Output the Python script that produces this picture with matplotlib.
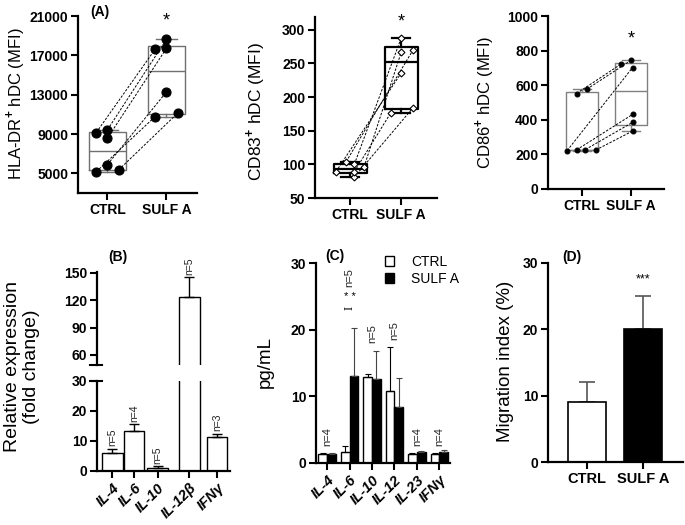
import numpy as np
import matplotlib.pyplot as plt

plt.rcParams['font.family'] = ['Liberation Sans', 'DejaVu Sans']
plt.rcParams['font.weight'] = 'bold'
plt.rcParams['mathtext.fontset'] = 'custom'
plt.rcParams['mathtext.rm'] = 'Liberation Sans'

# (A) paired MFI values, CTRL -> SULF A (same donor at same index)
groups = ['CTRL', 'SULF A']
hla_ctrl = [9150, 9430, 8580, 5890, 5170, 5350]
hla_sulf = [17630, 18620, 17700, 13270, 10770, 11110]
cd83_ctrl = [100, 104, 96, 89, 81, 89]
cd83_sulf = [288, 270, 267, 236, 184, 176]
cd86_ctrl = [552, 577, 222, 226, 228, 225]
cd86_sulf = [721, 744, 702, 431, 385, 335]

# (B) relative expression (fold change)
b_genes = ['IL-4', 'IL-6', 'IL-10', 'IL-12β', 'IFNγ']
b_mean = [5.9, 13.3, 1.0, 124, 11.3]
b_err = [1.6, 2.3, 0.6, 21, 1.2]
b_n = ['n=5', 'n=4', 'n=5', 'n=5', 'n=3']

# (C) cytokines pg/mL
c_genes = ['IL-4', 'IL-6', 'IL-10', 'IL-12', 'IL-23', 'IFNγ']
c_ctrl = [1.4, 1.6, 12.9, 10.8, 1.4, 1.4]
c_ctrl_err = [0.1, 0.9, 0.4, 6.6, 0.1, 0.1]
c_sulf = [1.4, 13.1, 12.6, 8.4, 1.6, 1.6]
c_sulf_err = [0.1, 7.2, 4.2, 4.3, 0.2, 0.3]
c_n = ['n=4', 'n=5', 'n=5', 'n=5', 'n=4', 'n=4']

# (D) migration index
d_mean = [9.0, 20.1]
d_err = [3.0, 5.0]

# horizontal scatter offsets of the points (layout only)
hla_off = ([-0.19, 0, 0, 0, -0.19, 0.19], [-0.19, 0, 0, 0, -0.19, 0.19])
cd83_off = ([0.08, -0.08, 0.27, -0.28, 0.08, 0.08], [0.0, 0.23, 0.0, 0.0, 0.23, -0.21])
cd86_off = ([-0.11, 0.1, -0.3, -0.11, 0.07, 0.28], [-0.21, 0.0, 0.03, 0.03, 0.03, 0.03])

W, H = 685, 525
fig = plt.figure(figsize=(W / 100, H / 100), dpi=100)
NORMAL = dict(fontweight='normal')


def rect(x0, y0, x1, y1):
    return [x0 / W, 1 - y1 / H, (x1 - x0) / W, (y1 - y0) / H]


def style(ax, ticks, bottom=True):
    for s in ['top', 'right']:
        ax.spines[s].set_visible(False)
    ax.spines['left'].set_linewidth(1.6)
    ax.spines['bottom'].set_linewidth(1.6)
    if not bottom:
        ax.spines['bottom'].set_visible(False)
    ax.tick_params(width=1.5, length=5, pad=2, labelsize=10)
    ax.set_yticks(ticks)


def stats(v):
    q1, med, q3 = np.percentile(v, [25, 50, 75], method='weibull')
    return dict(med=med, q1=q1, q3=q3, whislo=min(v), whishi=max(v), fliers=[])


def paired_box(ax, ctrl, sulf, offs, boxcol, boxlw, mk, ms, mfc):
    ax.bxp([stats(ctrl), stats(sulf)], positions=[0, 1], widths=0.64, showfliers=False,
           capwidths=0.35,
           boxprops=dict(color=boxcol, lw=boxlw), whiskerprops=dict(color=boxcol, lw=boxlw),
           capprops=dict(color=boxcol, lw=boxlw), medianprops=dict(color=boxcol, lw=boxlw))
    xc = np.array(offs[0])
    xs = 1 + np.array(offs[1])
    for i in range(len(ctrl)):
        ax.plot([xc[i], xs[i]], [ctrl[i], sulf[i]], color='k', lw=0.7, ls=(0, (2.5, 1.5)), zorder=3)
    ax.plot(xc, ctrl, ls='none', marker=mk, ms=ms, mfc=mfc, mec='k', mew=0.8, zorder=4)
    ax.plot(xs, sulf, ls='none', marker=mk, ms=ms, mfc=mfc, mec='k', mew=0.8, zorder=4)
    ax.set_xticks([0, 1])
    ax.set_xticklabels(groups, fontsize=10.5)


# ---- (A) ----
a1 = fig.add_axes(rect(78, 16, 197, 193))
paired_box(a1, hla_ctrl, hla_sulf, hla_off, '#707070', 1.0, 'o', 6.5, 'k')
a1.set_xlim(-0.5, 1.52)
a1.set_ylim(3000, 21000)
style(a1, [5000, 9000, 13000, 17000, 21000])
a1.text(1, 20450, '*', ha='center', va='center', fontsize=13, **NORMAL)

a2 = fig.add_axes(rect(315, 17, 437, 198))
paired_box(a2, cd83_ctrl, cd83_sulf, cd83_off, 'k', 1.6, 'D', 3.5, 'white')
a2.set_xlim(-0.69, 1.7)
a2.set_ylim(50, 319)
style(a2, list(range(50, 301, 50)))
a2.text(1, 312, '*', ha='center', va='center', fontsize=13, **NORMAL)

a3 = fig.add_axes(rect(548, 16, 664, 189))
paired_box(a3, cd86_ctrl, cd86_sulf, cd86_off, '#808080', 1.0, 'o', 3.5, 'k')
a3.set_xlim(-0.69, 1.67)
a3.set_ylim(0, 1000)
style(a3, list(range(0, 1001, 200)))
a3.text(1, 865, '*', ha='center', va='center', fontsize=13, **NORMAL)

fig.text(16 / W, 1 - 104 / H, 'HLA-DR$^{+}$ hDC (MFI)', rotation=90, ha='center', va='center',
         fontsize=12, **NORMAL)
fig.text(256 / W, 1 - 111 / H, 'CD83$^{+}$ hDC (MFI)', rotation=90, ha='center', va='center',
         fontsize=12.5, **NORMAL)
fig.text(485 / W, 1 - 102 / H, 'CD86$^{+}$ hDC (MFI)', rotation=90, ha='center', va='center',
         fontsize=12, **NORMAL)

# ---- (B) broken axis ----
bx = np.array([0, 0.98, 2.05, 3.5, 4.75])
bw = 0.95
b_lo = fig.add_axes(rect(97, 381, 230, 471))
b_hi = fig.add_axes(rect(97, 272, 230, 365))
for ax in (b_lo, b_hi):
    ax.bar(bx, b_mean, bw, color='white', edgecolor='k', lw=1.0, zorder=2)
    ax.errorbar(bx, b_mean, yerr=[np.zeros(5), b_err], fmt='none', ecolor='k',
                elinewidth=1, capsize=3.5, capthick=1, zorder=3)
    ax.set_xlim(-0.7, 5.34)
b_lo.set_ylim(0, 30)
b_hi.set_ylim(49, 151)
style(b_lo, [0, 10, 20, 30])
style(b_hi, [60, 90, 120, 150], bottom=False)
b_hi.set_xticks([])
b_lo.set_xticks(bx)
b_lo.set_xticklabels(b_genes, rotation=45, ha='right', rotation_mode='anchor',
                     fontstyle='italic', fontsize=10.5)
b_hi.plot([-0.05, 0.04], [0, 0], transform=b_hi.transAxes, color='k', lw=1.5, clip_on=False)
b_lo.plot([-0.05, 0.04], [1, 1], transform=b_lo.transAxes, color='k', lw=1.5, clip_on=False)
for i in range(5):
    top = b_mean[i] + b_err[i]
    ax = b_hi if b_mean[i] > 30 else b_lo
    off = 3 if ax is b_hi else 0.8
    ax.text(bx[i], top + off, b_n[i], rotation=90, ha='center', va='bottom', fontsize=7.5,
            color='#222222', **NORMAL)
fig.text(118 / W, 1 - 257 / H, '(B)', ha='center', va='center', fontsize=10)
fig.text(22 / W, 1 - 367 / H, 'Relative expression\n(fold change)', rotation=90,
         ha='center', va='center', fontsize=14, linespacing=1.1, **NORMAL)

# ---- (C) ----
cx = np.arange(len(c_genes))
cw = 0.39
c = fig.add_axes(rect(316, 263, 450, 463))
h1 = c.bar(cx - cw / 2, c_ctrl, cw, color='white', edgecolor='k', lw=1.0, zorder=2)
h2 = c.bar(cx + cw / 2, c_sulf, cw, color='k', edgecolor='k', lw=1.0, zorder=2)
c.errorbar(cx - cw / 2, c_ctrl, yerr=[np.zeros(6), c_ctrl_err], fmt='none', ecolor='k',
           elinewidth=0.8, capsize=2.5, capthick=0.8, zorder=3)
c.errorbar(cx + cw / 2, c_sulf, yerr=[np.zeros(6), c_sulf_err], fmt='none', ecolor='#444444',
           elinewidth=0.8, capsize=2.5, capthick=0.8, zorder=3)
c.set_xlim(-0.5, 5.48)
c.set_ylim(0, 30)
style(c, [0, 10, 20, 30])
c.set_xticks(cx)
c.set_xticklabels(c_genes, rotation=45, ha='right', rotation_mode='anchor',
                  fontstyle='italic', fontsize=10.5)
n_y = [2.6, 26.4, 18.0, 18.4, 2.6, 2.6]
for i in range(6):
    c.text(cx[i], n_y[i], c_n[i], rotation=90, ha='center', va='bottom', fontsize=8,
           color='#222222', **NORMAL)
c.text(cx[1], 24.9, '* *', ha='center', va='center', fontsize=8, **NORMAL)
c.text(cx[1], 23.3, 'I', rotation=90, ha='center', va='center', fontsize=9,
       family='Liberation Serif', **NORMAL)
c.legend([h1, h2], groups, loc='upper left', bbox_to_anchor=(0.47, 1.07), frameon=False,
         handlelength=0.7, handleheight=0.7, handletextpad=1.2, labelspacing=0.25,
         prop=dict(size=10, weight='normal'), borderaxespad=0)
fig.text(335 / W, 1 - 256 / H, '(C)', ha='center', va='center', fontsize=10)
fig.text(265 / W, 1 - 362 / H, 'pg/mL', rotation=90, ha='center', va='center', fontsize=13.5, **NORMAL)

# ---- (D) ----
d = fig.add_axes(rect(548, 263, 683, 462))
d.bar([0, 1], d_mean, 0.68, color=['white', 'k'], edgecolor='k', lw=1.2, zorder=2)
d.errorbar([0, 1], d_mean, yerr=[[0, 0], d_err], fmt='none', ecolor='#555555',
           elinewidth=1.2, capsize=5.5, capthick=1.2, zorder=1)
d.set_xlim(-0.7, 1.71)
d.set_ylim(0, 30)
style(d, [0, 10, 20, 30])
d.set_xticks([0, 1])
d.set_xticklabels(groups, fontsize=10.5)
d.text(1, 27.5, '***', ha='center', va='center', fontsize=9, **NORMAL)
fig.text(572 / W, 1 - 257 / H, '(D)', ha='center', va='center', fontsize=10)
fig.text(505 / W, 1 - 361 / H, 'Migration index (%)', rotation=90, ha='center', va='center',
         fontsize=13.5, **NORMAL)

fig.text(100 / W, 1 - 12 / H, '(A)', ha='center', va='center', fontsize=10)

fig.savefig('out.png', dpi=100)
